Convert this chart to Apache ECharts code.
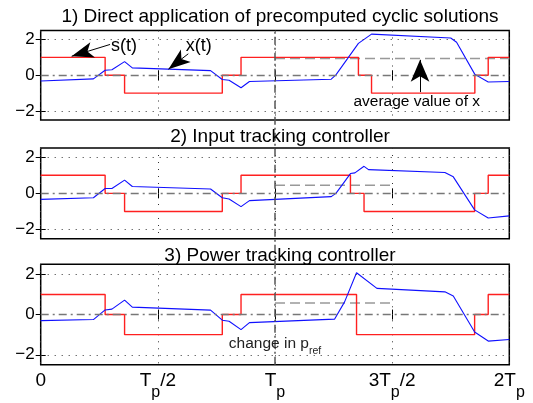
<!DOCTYPE html>
<html><head><meta charset="utf-8">
<script src="https://cdn.jsdelivr.net/npm/echarts@6/dist/echarts.min.js"></script>
<style>html,body{margin:0;padding:0;background:#fff}#c{width:533px;height:403px}</style>
</head><body><div id="c"></div>
<script>
// ---- data ----
const titles = ['1) Direct application of precomputed cyclic solutions','2) Input tracking controller','3) Power tracking controller'];
const xTicks = [0, 0.5, 1, 1.5, 2];
const xTickLabels = ['0', 'T_p/2', 'T_p', '3T_p/2', '2T_p'];
const yTicks = [-2, 0, 2];
const yTickLabels = ['\u22122', '0', '2'];

// s(t): switching times and held values
const sTimes1 = [0, 0.275, 0.358, 0.775, 0.855, 1.356, 1.412, 1.853, 1.91, 2];
const sVals1  = [1, 0, -1, 0, 1, 0, -1, 0, 1, 1];
const sTimes2 = [0, 0.275, 0.358, 0.775, 0.855, 1.322, 1.38, 1.852, 1.91, 2];
const sVals2  = [1, 0, -1, 0, 1, 0, -1, 0, 1, 1];
const sTimes3 = [0, 0.275, 0.358, 0.775, 0.855, 1.348, 1.852, 1.91, 2];
const sVals3  = [1, 0, -1, 0, 1, -1, 0, 1, 1];

// x(t)
const xTimes1 = [0, 0.225, 0.275, 0.304, 0.358, 0.391, 0.725, 0.775, 0.804, 0.855, 0.891, 1.24, 1.26, 1.356, 1.412, 1.75, 1.775, 1.853, 1.91, 2];
const xVals1  = [-0.32, -0.2, 0.28, 0.31, 0.76, 0.41, 0.26, -0.24, -0.28, -0.7, -0.35, -0.22, 0.02, 1.78, 2.3, 2.08, 1.84, 0.05, -0.38, -0.35];
const xTimes2 = [0, 0.225, 0.275, 0.304, 0.358, 0.391, 0.725, 0.775, 0.804, 0.855, 0.891, 1.24, 1.26, 1.322, 1.341, 1.38, 1.399, 1.725, 1.761, 1.852, 1.91, 2];
const xVals2  = [-0.33, -0.24, 0.27, 0.27, 0.73, 0.38, 0.24, -0.24, -0.31, -0.73, -0.4, -0.18, 0, 1.09, 1.13, 1.49, 1.31, 1.15, 0.91, -0.91, -1.36, -1.24];
const xTimes3 = [0, 0.225, 0.275, 0.304, 0.358, 0.391, 0.725, 0.775, 0.804, 0.855, 0.891, 1.254, 1.297, 1.348, 1.435, 1.725, 1.761, 1.852, 1.91, 2];
const xVals3  = [-0.3, -0.25, 0.23, 0.27, 0.72, 0.37, 0.22, -0.28, -0.33, -0.75, -0.4, -0.23, 0.63, 2.08, 1.3, 1.13, 0.92, -0.87, -1.32, -1.24];

// average value of x over second period (dashed)
const avgVals = [0.93, 0.45, 0.58];
const avgStart = [1, 1, 1];
const avgEnd = [2, 1.5, 1.5];

// annotations (data coordinates)
const sLabelPos = [0.356, 1.61];
const sArrow = [[0.296, 1.72], [0.132, 1.06]];
const xLabelPos = [0.675, 1.65];
const xArrow = [[0.63, 1.2], [0.545, 0.34]];
const avgLabelPos = [1.605, -1.47];
const avgArrow = [[1.619, -0.94], [1.619, 0.86]];
const prefLabelPos = [1.0, -1.5];

// ---- build ----
const FONT = 'Liberation Sans';
const grids = [
  {left: 40.7, top: 30.5, width: 468.6, height: 89.5},
  {left: 40.7, top: 148, width: 468.6, height: 90.7},
  {left: 40.7, top: 264.3, width: 468.6, height: 100.5}
];
const sT = [sTimes1, sTimes2, sTimes3], sV = [sVals1, sVals2, sVals3];
const xT = [xTimes1, xTimes2, xTimes3], xV = [xVals1, xVals2, xVals3];
const zip = (a, b) => a.map((t, i) => [t, b[i]]);

function xLabelRich(v) {
  const i = xTicks.findIndex(t => Math.abs(t - v) < 1e-6);
  if (i < 0) return '';
  const parts = xTickLabels[i].split('_p');
  let s = '{a|' + parts[0] + '}';
  for (let k = 1; k < parts.length; k++) {
    s += '{s|p}';
    if (parts[k]) s += '{a|' + parts[k] + '}';
  }
  return s;
}

const gridOpt = [], xAxes = [], yAxes = [], series = [];
grids.forEach((g, i) => {
  gridOpt.push(Object.assign({show: true, borderColor: '#000', borderWidth: 1.5, backgroundColor: 'transparent'}, g));
  xAxes.push({
    gridIndex: i, type: 'value', min: 0, max: 2, interval: 0.5,
    axisLine: {show: false},
    axisTick: {show: true, inside: true, length: 5, lineStyle: {color: '#000', width: 1}},
    axisLabel: {show: i === 2, margin: 6, formatter: xLabelRich,
      rich: {
        a: {fontSize: 19, fontFamily: FONT, color: '#000', verticalAlign: 'top', lineHeight: 20},
        s: {fontSize: 16, fontFamily: FONT, color: '#000', verticalAlign: 'top', lineHeight: 17, padding: [14, 0, 0, 0]}
      }},
    splitLine: {show: true, lineStyle: {type: [1, 6], color: '#333', width: 1}}
  });
  xAxes.push({
    gridIndex: i, type: 'value', min: 0, max: 2, interval: 0.5, position: 'top',
    axisLine: {show: false}, axisLabel: {show: false}, splitLine: {show: false},
    axisTick: {show: true, inside: true, length: 5, lineStyle: {color: '#000'}}
  });
  yAxes.push({
    gridIndex: i, type: 'value', min: -2.5, max: 2.5,
    axisLine: {show: false},
    axisTick: {show: true, inside: true, length: 5, customValues: yTicks, lineStyle: {color: '#000'}},
    axisLabel: {show: true, customValues: yTicks, margin: 6, fontSize: 17, fontFamily: FONT, color: '#000',
      formatter: v => { const k = yTicks.findIndex(t => Math.abs(t - v) < 1e-6); return k < 0 ? '' : yTickLabels[k]; }},
    splitLine: {show: false}
  });
  yAxes.push({
    gridIndex: i, type: 'value', min: -2.5, max: 2.5, position: 'right',
    axisLine: {show: false}, axisLabel: {show: false}, splitLine: {show: false},
    axisTick: {show: true, inside: true, length: 5, customValues: yTicks, lineStyle: {color: '#000'}}
  });
  // grid decorations: dotted at +-2, dash-dot at 0
  series.push({
    type: 'line', xAxisIndex: 2 * i, yAxisIndex: 2 * i, data: [], silent: true,
    markLine: {symbol: 'none', silent: true, animation: false, label: {show: false},
      data: [
        {yAxis: 2, lineStyle: {type: [1, 6], color: '#333', width: 1}},
        {yAxis: -2, lineStyle: {type: [1, 6], color: '#333', width: 1}},
        {yAxis: 0, lineStyle: {type: [8, 4, 2, 4], color: '#777', width: 1.3}}
      ]}
  });
  // average dashed
  series.push({
    type: 'line', xAxisIndex: 2 * i, yAxisIndex: 2 * i, showSymbol: false, silent: true, animation: false,
    data: [[avgStart[i], avgVals[i]], [avgEnd[i], avgVals[i]]],
    lineStyle: {color: '#999', width: 1.5, type: [10, 5]}
  });
  // s(t)
  series.push({
    type: 'line', step: 'end', xAxisIndex: 2 * i, yAxisIndex: 2 * i, showSymbol: false, animation: false,
    data: zip(sT[i], sV[i]), lineStyle: {color: '#ff2020', width: 1.4}
  });
  // x(t)
  series.push({
    type: 'line', xAxisIndex: 2 * i, yAxisIndex: 2 * i, showSymbol: false, animation: false,
    data: zip(xT[i], xV[i]), lineStyle: {color: '#1010ff', width: 1.1}
  });
});

// annotation helpers
function arrowLine(a, b, size) {
  return [{coord: a, symbol: 'none'}, {coord: b, symbol: 'arrow', symbolSize: size}];
}
function textPoint(pos, txt, size, rich) {
  return {coord: pos, symbol: 'circle', symbolSize: 0,
    label: {show: true, position: 'inside', formatter: txt, fontSize: size, fontFamily: FONT, color: '#000', rich: rich}};
}
series.push({
  type: 'line', xAxisIndex: 0, yAxisIndex: 0, data: [], silent: true, animation: false,
  markLine: {silent: true, animation: false, label: {show: false}, lineStyle: {color: '#000', width: 1, type: 'solid'},
    data: [arrowLine(sArrow[0], sArrow[1], [12, 22]), arrowLine(xArrow[0], xArrow[1], [12, 22]), arrowLine(avgArrow[0], avgArrow[1], [14, 22])]},
  markPoint: {silent: true, animation: false,
    itemStyle: {color: '#000'},
    data: [textPoint(sLabelPos, 's(t)', 18), textPoint(xLabelPos, 'x(t)', 18), textPoint(avgLabelPos, 'average value of x', 15.5)]}
});
series.push({
  type: 'line', xAxisIndex: 4, yAxisIndex: 4, data: [], silent: true, animation: false,
  markPoint: {silent: true, animation: false,
    data: [textPoint(prefLabelPos, '{m|change in p}{r|ref}', 15,
      {m: {fontSize: 15.5, fontFamily: FONT, color: '#222', verticalAlign: 'top', lineHeight: 17},
       r: {fontSize: 10.5, fontFamily: FONT, color: '#222', verticalAlign: 'top', lineHeight: 11, padding: [9, 0, 0, 0]}})]}
});

// spanning Tp line
gridOpt.push({left: 40.7, top: 30.5, width: 468.6, height: 334.3, show: false});
xAxes.push({gridIndex: 3, type: 'value', min: 0, max: 2, show: false});
yAxes.push({gridIndex: 3, type: 'value', min: 0, max: 1, show: false});
series.push({
  type: 'line', xAxisIndex: 6, yAxisIndex: 6, data: [], silent: true, animation: false, z: 5,
  markLine: {symbol: 'none', silent: true, animation: false, label: {show: false},
    lineStyle: {color: '#555', width: 1.5, type: [8, 3, 2, 3]}, data: [{xAxis: 1}]}
});

const option = {
  animation: false,
  backgroundColor: '#fff',
  title: titles.map((t, i) => ({text: t, left: 275, textAlign: 'center', top: [2, 122, 241.5][i],
    textStyle: {fontSize: 19, fontWeight: 'normal', fontFamily: FONT, color: '#000'}})),
  grid: gridOpt, xAxis: xAxes, yAxis: yAxes, series: series
};
const chart = echarts.init(document.getElementById('c'), null, {renderer: 'canvas'});
chart.setOption(option);
</script></body></html>
